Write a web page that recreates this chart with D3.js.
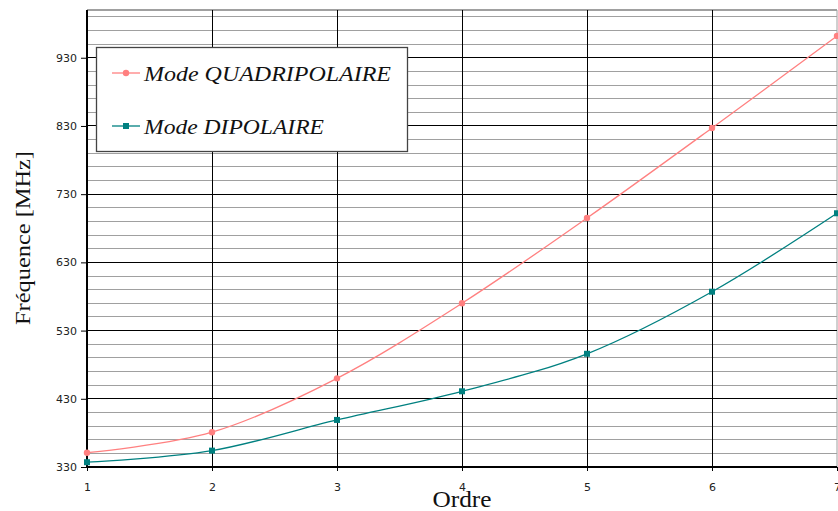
<!DOCTYPE html>
<html><head><meta charset="utf-8">
<script src="https://cdn.jsdelivr.net/npm/d3@7/dist/d3.min.js"></script>
<style>body{margin:0;background:#fff;}svg{display:block;}</style>
</head><body>
<svg id="c" width="838" height="511"></svg>
<script>
const ordres = [1, 2, 3, 4, 5, 6, 7];
const quadripolaire = [351, 381, 460, 570, 695, 827, 962];
const dipolaire = [337, 354, 399, 441, 496, 587, 702];
const yTicks = [330, 430, 530, 630, 730, 830, 930];
const seriesNames = ["Mode QUADRIPOLAIRE", "Mode DIPOLAIRE"];
const colors = ["#FF8080", "#008080"];

const svg = d3.select("#c");
const L = 87, R = 837, T = 10, B = 467;
const x = d3.scaleLinear().domain([1, 7]).range([L, R]);
const y = d3.scaleLinear().domain([330, 1000]).range([B, T]);

// minor grid
const minor = d3.range(350, 1001, 20).filter(v => !yTicks.includes(v));
svg.append("g").selectAll("line").data(minor).join("line")
  .attr("x1", L).attr("x2", R).attr("y1", d => y(d)).attr("y2", d => y(d))
  .attr("stroke", "#a0a0a0").attr("stroke-width", 1).attr("shape-rendering", "crispEdges");
// top / right border
svg.append("line").attr("x1", L).attr("x2", R).attr("y1", y(1000)).attr("y2", y(1000))
  .attr("stroke", "#a0a0a0").attr("stroke-width", 2);
svg.append("line").attr("x1", R).attr("x2", R).attr("y1", T).attr("y2", B)
  .attr("stroke", "#a0a0a0").attr("stroke-width", 1);
// major grid
svg.append("g").selectAll("line").data(yTicks.slice(1)).join("line")
  .attr("x1", L).attr("x2", R).attr("y1", d => y(d)).attr("y2", d => y(d))
  .attr("stroke", "#000").attr("stroke-width", 1).attr("shape-rendering", "crispEdges");
svg.append("g").selectAll("line").data(ordres.slice(1, 6)).join("line")
  .attr("x1", d => x(d)).attr("x2", d => x(d)).attr("y1", T).attr("y2", B)
  .attr("stroke", "#000").attr("stroke-width", 1).attr("shape-rendering", "crispEdges");

// axes
const yAxis = d3.axisLeft(y).tickValues(yTicks).tickSize(6).tickPadding(4).tickFormat(d3.format("d"));
const gy = svg.append("g").attr("transform", `translate(${L},0)`).call(yAxis);
gy.select(".domain").attr("stroke-width", 2).attr("d", `M0,${T}V${B}`);
gy.selectAll("text").attr("font-family", "DejaVu Sans").attr("font-size", 11).attr("fill", "#222");

const xAxis = d3.axisBottom(x).tickValues(ordres).tickSize(4).tickPadding(12).tickFormat(d3.format("d"));
const gx = svg.append("g").attr("transform", `translate(0,${B})`).call(xAxis);
gx.select(".domain").attr("stroke-width", 2).attr("d", `M${L},0H${R}`);
gx.selectAll("text").attr("font-family", "DejaVu Sans").attr("font-size", 11).attr("fill", "#222");

// lines
const data = [quadripolaire, dipolaire];
const line = d3.line().x((d, i) => x(ordres[i])).y(d => y(d)).curve(d3.curveCatmullRom.alpha(0));
data.forEach((s, k) => {
  svg.append("path").attr("d", line(s)).attr("fill", "none").attr("stroke", colors[k]).attr("stroke-width", 1.3);
});
svg.append("g").selectAll("circle").data(quadripolaire).join("circle")
  .attr("cx", (d, i) => x(ordres[i])).attr("cy", d => y(d)).attr("r", 3.2).attr("fill", colors[0]);
svg.append("g").selectAll("rect").data(dipolaire).join("rect")
  .attr("x", (d, i) => x(ordres[i]) - 3).attr("y", d => y(d) - 3).attr("width", 6).attr("height", 6).attr("fill", colors[1]);

// legend
const lg = svg.append("g");
lg.append("rect").attr("x", 96.5).attr("y", 47.5).attr("width", 311).attr("height", 104)
  .attr("fill", "#fff").attr("stroke", "#444").attr("stroke-width", 1.3);
const legendWidths = [247, 180];
seriesNames.forEach((n, k) => {
  const cy = 73 + k * 53;
  lg.append("line").attr("x1", 112).attr("x2", 140).attr("y1", cy).attr("y2", cy)
    .attr("stroke", colors[k]).attr("stroke-width", 1.3);
  if (k === 0) lg.append("circle").attr("cx", 126).attr("cy", cy).attr("r", 3.2).attr("fill", colors[k]);
  else lg.append("rect").attr("x", 123).attr("y", cy - 3).attr("width", 6).attr("height", 6).attr("fill", colors[k]);
  lg.append("text").attr("x", 144).attr("y", cy + 8).text(n)
    .attr("textLength", legendWidths[k]).attr("lengthAdjust", "spacingAndGlyphs")
    .attr("font-family", "Liberation Serif").attr("font-style", "italic").attr("font-size", 22).attr("fill", "#111");
});

// titles
svg.append("text").attr("x", 462).attr("y", 507).attr("text-anchor", "middle").text("Ordre")
  .attr("font-family", "Liberation Serif").attr("font-size", 23).attr("fill", "#111")
  .attr("textLength", 59).attr("lengthAdjust", "spacingAndGlyphs");
svg.append("text").attr("transform", "translate(30,238) rotate(-90)").attr("text-anchor", "middle")
  .text("Fréquence [MHz]").attr("font-family", "Liberation Serif").attr("font-size", 22).attr("fill", "#111")
  .attr("textLength", 174).attr("lengthAdjust", "spacingAndGlyphs");
</script>
</body></html>
